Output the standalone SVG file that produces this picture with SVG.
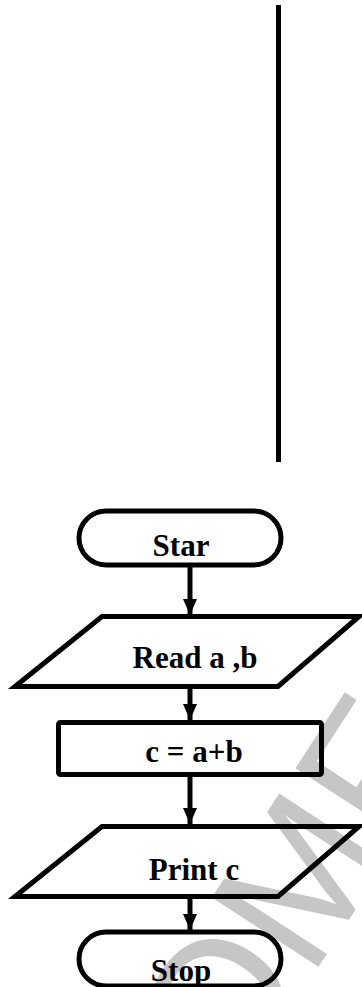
<svg xmlns="http://www.w3.org/2000/svg" width="362" height="987" viewBox="0 0 362 987">
  <style>
    .shape { fill: none; stroke: #000000; stroke-width: 5; stroke-linejoin: miter; }
    .label { font-family: "Liberation Serif", "Times New Roman", serif; font-weight: bold; font-size: 31px; fill: #000000; text-anchor: middle; }
    .wire { stroke: #000000; stroke-width: 5; fill: none; }
    .mark { font-family: "Liberation Sans", Arial, sans-serif; font-size: 185px; fill: #c6c6c6; text-anchor: middle; }
  </style>
  <defs>
    <marker id="head" markerUnits="userSpaceOnUse" markerWidth="16" markerHeight="14" refX="16" refY="7" orient="auto">
      <path d="M0,0 L16,7 L0,14 Z" fill="#000000"/>
    </marker>
  </defs>

  <rect width="362" height="987" fill="#ffffff"/>

  <!-- diagonal page watermark, under the drawing -->
  <g id="watermark">
    <text class="mark" transform="translate(252,948) rotate(-57)" x="0" y="66">NOMF</text>
  </g>

  <!-- vertical rule -->
  <rect id="rule" x="276" y="5" width="5" height="457" fill="#000000"/>

  <!-- connectors -->
  <g id="connectors">
    <line class="wire" x1="190" y1="567" x2="190" y2="615" marker-end="url(#head)"/>
    <line class="wire" x1="190" y1="689" x2="190" y2="720" marker-end="url(#head)"/>
    <line class="wire" x1="190" y1="777" x2="190" y2="824" marker-end="url(#head)"/>
    <line class="wire" x1="190" y1="899" x2="190" y2="930" marker-end="url(#head)"/>
  </g>

  <g id="start">
    <rect class="shape" x="79" y="511" width="202" height="54" rx="27" ry="27"/>
    <text class="label" x="181" y="556">Star</text>
  </g>

  <g id="read">
    <polygon class="shape" points="102,616.5 359,616.5 278,686.5 15,686.5"/>
    <text class="label" x="195" y="668">Read a ,b</text>
  </g>

  <g id="compute">
    <rect class="shape" x="58.5" y="722.5" width="263" height="52" rx="2"/>
    <text class="label" x="194" y="762">c = a+b</text>
  </g>

  <g id="print">
    <polygon class="shape" points="102,826.5 359,826.5 278,896.5 15,896.5"/>
    <text class="label" x="194" y="880">Print c</text>
  </g>

  <g id="stop">
    <rect class="shape" x="79" y="932" width="202" height="54" rx="27" ry="27"/>
    <text class="label" x="181" y="981">Stop</text>
  </g>
</svg>
